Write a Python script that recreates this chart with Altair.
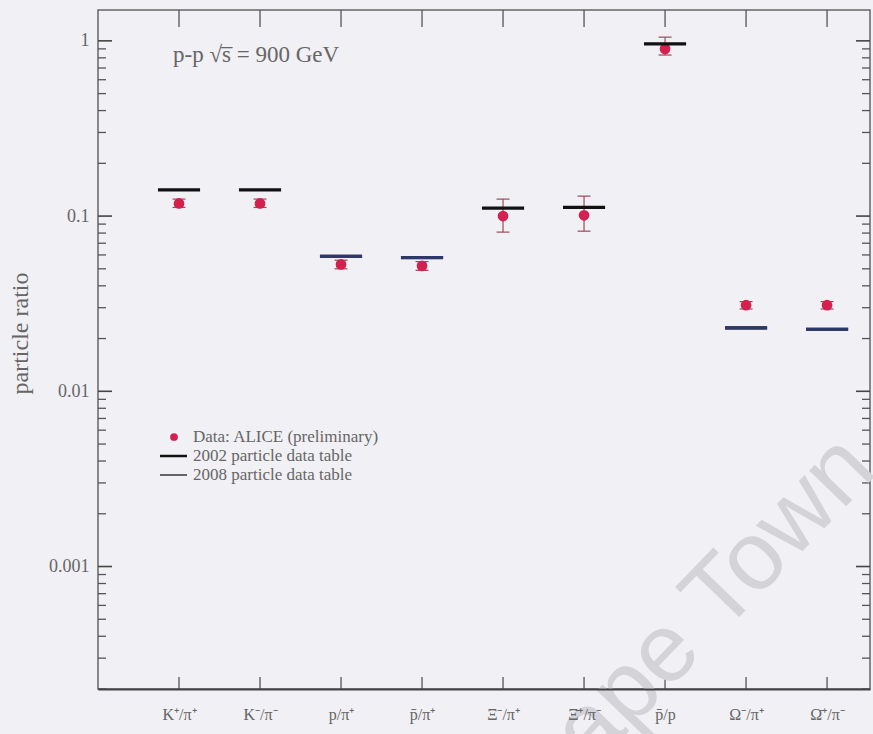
import json
import altair as alt
import pandas as pd

# Particle ratios in p-p collisions at sqrt(s) = 900 GeV
categories = ["K⁺/π⁺", "K⁻/π⁻", "p/π⁺", "p̄/π⁺", "Ξ⁻/π⁺", "Ξ̄⁺/π⁻", "p̄/p", "Ω⁻/π⁺", "Ω̄⁺/π⁻"]
alice_value = [0.118, 0.118, 0.053, 0.052, 0.100, 0.101, 0.90, 0.031, 0.031]
alice_low = [0.112, 0.112, 0.050, 0.049, 0.081, 0.082, 0.83, 0.0295, 0.0295]
alice_high = [0.125, 0.125, 0.056, 0.055, 0.125, 0.130, 1.05, 0.0325, 0.0325]
pdt_2002 = [0.141, 0.141, 0.059, 0.058, 0.111, 0.112, 0.96, 0.023, 0.0226]
pdt_2008 = [None, None, 0.059, 0.058, None, None, None, 0.023, 0.0226]

y_major = [0.001, 0.01, 0.1, 1]
y_minor = [k * 10.0 ** d for d in range(-4, 1) for k in range(2, 10)
           if 2e-4 <= k * 10.0 ** d <= 1.5]

W, H = 772, 679
SERIF = "Liberation Serif"
GREY = "#666666"

idx = list(range(len(categories)))
df = pd.DataFrame({
    "i": idx, "cat": categories, "v": alice_value,
    "lo": alice_low, "hi": alice_high,
})
df02 = pd.DataFrame({"i": idx, "v": pdt_2002})
df08 = pd.DataFrame({"i": idx, "v": pdt_2008}).dropna()

xs = alt.Scale(domain=[-1, 8.53], nice=False, zero=False)
ys = alt.Scale(type="log", domain=[2e-4, 1.5], nice=False)

label_expr = json.dumps(categories, ensure_ascii=False) + "[datum.value]"

x_axis = alt.Axis(values=idx, labelExpr=label_expr, ticks=False, grid=False,
                  domain=True, domainColor="#444444", domainWidth=2,
                  labelFont=SERIF, labelFontSize=16, labelColor=GREY,
                  labelPadding=17, title=None, zindex=1)
y_axis = alt.Axis(values=y_major, labelExpr="format(datum.value, '~g')",
                  ticks=False, grid=False, domain=False,
                  labelFont=SERIF, labelFontSize=18, labelColor=GREY,
                  labelPadding=9, title="particle ratio", titleFont=SERIF,
                  titleFontSize=24, titleFontWeight="normal", titleColor=GREY,
                  titleX=-66, titleY=323, zindex=1)


def X(field):
    return alt.X(field, scale=xs, axis=x_axis)


def Y(field):
    return alt.Y(field, scale=ys, axis=y_axis)


base = alt.Chart(df)

# inward tick marks on all four sides
tick_minor = alt.Chart(pd.DataFrame({"v": y_minor}))
tick_major = alt.Chart(pd.DataFrame({"v": y_major}))
left_minor = tick_minor.mark_rule(color="#555", strokeWidth=1.3).encode(
    y=Y("v:Q"), x=alt.value(0), x2=alt.value(8))
left_major = tick_major.mark_rule(color="#444", strokeWidth=1.6).encode(
    y=Y("v:Q"), x=alt.value(0), x2=alt.value(14))
right_minor = tick_minor.mark_rule(color="#555", strokeWidth=1.3).encode(
    y=Y("v:Q"), x=alt.value(W), x2=alt.value(W - 8))
right_major = tick_major.mark_rule(color="#444", strokeWidth=1.6).encode(
    y=Y("v:Q"), x=alt.value(W), x2=alt.value(W - 14))
top_ticks = base.mark_rule(color="#555", strokeWidth=1.3).encode(
    x=X("i:Q"), y=alt.value(0), y2=alt.value(17))
bottom_ticks = base.mark_rule(color="#555", strokeWidth=1.3).encode(
    x=X("i:Q"), y=alt.value(H), y2=alt.value(H - 12))

# ALICE points with error bars
err = base.mark_rule(color="#9a4a5a", strokeWidth=1.2).encode(
    x=X("i:Q"), y=Y("lo:Q"), y2="hi:Q")
caps = base.transform_calculate(a="datum.i - 0.08", b="datum.i + 0.08")
cap_lo = caps.mark_rule(color="#9a4a5a", strokeWidth=1.2).encode(
    x=X("a:Q"), x2="b:Q", y=Y("lo:Q"))
cap_hi = caps.mark_rule(color="#9a4a5a", strokeWidth=1.2).encode(
    x=X("a:Q"), x2="b:Q", y=Y("hi:Q"))
dots = base.mark_point(filled=True, shape="circle", size=115, color="#d3204f",
                       opacity=1).encode(x=X("i:Q"), y=Y("v:Q"))

# particle data table values
bars02 = alt.Chart(df02).transform_calculate(
    a="datum.i - 0.26", b="datum.i + 0.26").mark_rule(
    color="#111111", strokeWidth=3.2).encode(x=X("a:Q"), x2="b:Q", y=Y("v:Q"))
bars08 = alt.Chart(df08).transform_calculate(
    a="datum.i - 0.26", b="datum.i + 0.26").mark_rule(
    color="#2c3868", strokeWidth=3).encode(x=X("a:Q"), x2="b:Q", y=Y("v:Q"))

one = alt.Data(values=[{}])

annot = alt.Chart(one).mark_text(font=SERIF, fontSize=23, color=GREY, align="left",
                                 baseline="middle").encode(
    x=alt.value(75), y=alt.value(45), text=alt.value("p-p √s̅  = 900 GeV"))

# legend
leg_dot = alt.Chart(one).mark_point(filled=True, shape="circle", size=60,
                                    color="#d3204f", opacity=1).encode(
    x=alt.value(76), y=alt.value(427))
leg_l1 = alt.Chart(one).mark_rule(color="#111111", strokeWidth=2.5).encode(
    x=alt.value(62), x2=alt.value(89), y=alt.value(446))
leg_l2 = alt.Chart(one).mark_rule(color="#555555", strokeWidth=1.8).encode(
    x=alt.value(62), x2=alt.value(89), y=alt.value(465))
leg_texts = []
for yy, txt in [(427, "Data: ALICE (preliminary)"), (446, "2002 particle data table"),
                (465, "2008 particle data table")]:
    leg_texts.append(alt.Chart(one).mark_text(
        font=SERIF, fontSize=17, color=GREY, align="left", baseline="middle").encode(
        x=alt.value(95), y=alt.value(yy), text=alt.value(txt)))

watermark = alt.Chart(one).mark_text(
    font="Liberation Sans", fontSize=97, color="#d3d3d8",
    align="center", baseline="alphabetic", angle=314).encode(
    x=alt.value(613), y=alt.value(636), text=alt.value("Cape Town"))

chart = alt.layer(
    err, cap_lo, cap_hi, dots, bars02, bars08,
    left_minor, left_major, right_minor, right_major, top_ticks, bottom_ticks,
    annot, leg_dot, leg_l1, leg_l2, *leg_texts, watermark,
).properties(
    width=W, height=H,
    padding={"left": 98, "top": 10, "right": 3, "bottom": 45},
    autosize=alt.AutoSizeParams(type="none"),
    background="#f1f0f4",
).configure_view(stroke="#666666", strokeWidth=1.5)

chart.save("out.html", embed_options={"renderer": "svg", "actions": False})
